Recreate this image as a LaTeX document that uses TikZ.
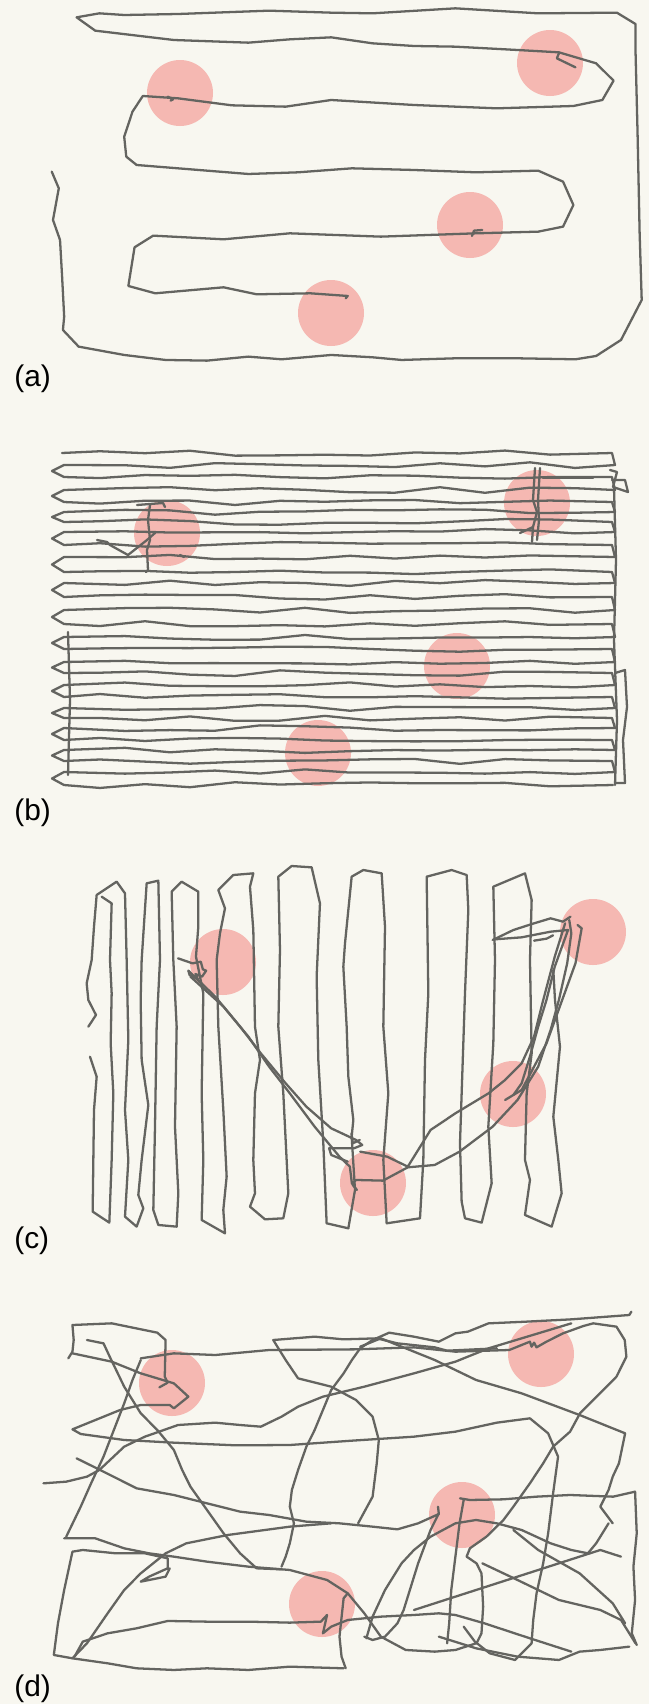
\documentclass[tikz,border=0pt]{standalone}
\usepackage{fontspec}
\setmainfont{Liberation Sans}
\definecolor{paper}{RGB}{248,247,240}
\definecolor{trailgray}{RGB}{100,100,96}
\definecolor{spotpink}{RGB}{245,184,178}
\tikzset{
  trail/.style={draw=trailgray,line width=1.3pt,line join=round,line cap=round},
  spot/.style={fill=spotpink},
  tag/.style={font=\fontsize{17}{20}\selectfont,anchor=base west,inner sep=0pt}
}

\begin{document}
\begin{tikzpicture}[x=0.02cm,y=-0.02cm]
  \fill[paper] (0,0) rectangle (649,1704);
  \useasboundingbox (0,0) rectangle (649,1704);
  \def\Rad{33}
  \pgfmathsetseed{42}
  % --- (a): boustrophedon by hand ---
  \foreach \cx/\cy in {180/93,550/63,470/225,331/313}
    \fill[spot] (\cx,\cy) circle (\Rad);
  \begin{scope}[xscale=0.414,yscale=0.3333]
    \draw[trail] (125,515) -- (142,565) -- (128,660) -- (145,720) -- (150,830)
      -- (155,950) -- (152,990) -- (190,1040) -- (300,1065) -- (400,1080)
      -- (500,1082) -- (600,1070) -- (680,1078) -- (800,1065) -- (900,1072)
      -- (970,1080) -- (1100,1075) -- (1250,1075) -- (1390,1078) -- (1440,1068)
      -- (1500,1020) -- (1550,900) -- (1545,700) -- (1540,400) -- (1535,150)
      -- (1535,72) -- (1490,38) -- (1300,40) -- (1100,25) -- (900,40) -- (800,38)
      -- (650,32) -- (430,42) -- (300,45) -- (240,40) -- (185,52) -- (230,92)
      -- (420,120) -- (600,128) -- (700,118) -- (800,112) -- (900,130)
      -- (1000,138) -- (1100,140) -- (1250,150) -- (1350,157) -- (1440,190)
      -- (1482,242) -- (1455,300) -- (1385,318) -- (1200,325) -- (1000,315)
      -- (800,300) -- (690,320) -- (560,316) -- (430,295) -- (345,288)
      -- (320,335) -- (300,410) -- (305,470) -- (330,495) -- (600,522)
      -- (720,517) -- (850,505) -- (1000,510) -- (1150,517) -- (1300,512)
      -- (1360,545) -- (1385,615) -- (1360,680) -- (1300,695) -- (1150,700)
      -- (920,710) -- (700,700) -- (540,718) -- (370,707) -- (325,742)
      -- (310,858) -- (375,880) -- (540,862) -- (620,883) -- (750,880)
      -- (840,888) -- (835,895);
    % little hooks where the walker paused
    \draw[trail] (1350,160) -- (1345,175) -- (1390,202);
    \draw[trail] (405,290) -- (418,298) -- (412,302);
    \draw[trail] (1140,708) -- (1145,692) -- (1165,690);
  \end{scope}
  \node[tag] (lab-a) at (14,386) {(a)};

  % --- (b): dense lawnmower ---
  \foreach \cx/\cy in {167/533,537/503,457/666,318/753}
    \fill[spot] (\cx,\cy) circle (\Rad);
  \draw[trail] (62,453)
    \foreach \ya/\yb/\yc in {453/465/477,477/490/502,502/512/522,522/532/545,
        545/557/572,572/583/597,597/610/624,624/637/649,649/662/673,673/685/697,
        697/708/718,718/728/740,740/750/761,761/772/785}
    { \foreach \x in {100,145,...,590} { -- (\x,{\ya+3*rand}) }
      -- (612,\ya) -- (615,\yb)
      \foreach \x in {575,530,...,85} { -- (\x,{\yb+3*rand}) }
      -- (64,\yb) -- (52,{(\yb+\yc)/2}) -- (64,\yc) }
    \foreach \x in {100,145,...,590} { -- (\x,{785+3*rand}) } -- (613,785);
  % right and left edges
  \draw[trail] (614,488) -- (616,560) -- (614,640) -- (617,720) -- (615,785);
  \draw[trail] (68,632) -- (70,700) -- (68,775);
  \draw[trail] (615,673) -- (625,670) -- (627,707) -- (623,740) -- (625,783) -- (615,783);
  \draw[trail] (610,470) -- (617,472) -- (613,487) -- (628,492) -- (625,480) -- (612,480);
  % scribbles in the spots
  \draw[trail] (150,505) -- (148,520) -- (150,540) -- (147,550) -- (148,570) -- (146,572);
  \draw[trail] (97,540) -- (107,542) -- (110,545) -- (128,555) -- (147,540) -- (155,533);
  \draw[trail] (137,505) -- (163,503) -- (165,507);
  \draw[trail] (180,555) -- (184,557);
  \draw[trail] (535,468) -- (533,500) -- (537,512) -- (533,527) -- (532,542);
  \draw[trail] (540,468) -- (538,500) -- (539,520) -- (537,540);
  \draw[trail] (520,533) -- (533,527);
  \draw[trail] (543,478) -- (593,478);
  \node[tag] (lab-b) at (14,820) {(b)};

  % --- (c): vertical sweeps, then a detour ---
  \foreach \cx/\cy in {223/962,373/1183,513/1094,593/932}
    \fill[spot] (\cx,\cy) circle (\Rad);
  \begin{scope}[shift={(70,860)},scale=0.3333]
    \draw[trail] (55,500) -- (78,465) -- (55,420) -- (50,370) -- (65,300) -- (72,200)
      -- (80,105) -- (140,65) -- (165,100) -- (170,300) -- (175,540) -- (165,750)
      -- (175,900) -- (165,1070) -- (200,1100) -- (220,1045) -- (205,1005)
      -- (215,900) -- (235,735) -- (215,600) -- (212,420) -- (215,300) -- (230,70)
      -- (265,62) -- (270,300) -- (260,500) -- (255,800) -- (250,1050) -- (265,1095)
      -- (320,1100) -- (325,1000) -- (315,800) -- (320,500) -- (310,300) -- (305,95)
      -- (335,65) -- (385,95) -- (385,200) -- (378,290) -- (400,400) -- (395,700)
      -- (400,900) -- (395,1080) -- (465,1120) -- (460,1050) -- (470,950)
      -- (460,750) -- (445,500) -- (440,300) -- (450,220) -- (465,145) -- (445,90)
      -- (490,45) -- (550,40) -- (540,80) -- (550,210) -- (555,500) -- (570,600)
      -- (555,700) -- (550,900) -- (555,1000) -- (540,1040) -- (585,1078)
      -- (640,1075) -- (655,1000) -- (650,900) -- (640,700) -- (625,500)
      -- (630,270) -- (625,50) -- (665,18) -- (725,22) -- (750,130) -- (740,350)
      -- (745,600) -- (760,850) -- (770,1090) -- (835,1105);
    \draw[trail] (60,590) -- (80,650) -- (72,750) -- (70,900) -- (68,1055)
      -- (118,1088) -- (125,900) -- (130,700) -- (122,550) -- (125,400)
      -- (120,300) -- (125,130) -- (95,110);
  \end{scope}
  \begin{scope}[shift={(340,860)},scale=0.3333]
    \draw[trail] (25,1105) -- (45,990) -- (35,830) -- (40,780) -- (25,650)
      -- (20,500) -- (10,320) -- (15,250) -- (35,50) -- (70,30) -- (125,40)
      -- (135,200) -- (130,500) -- (145,700) -- (130,900) -- (140,1090)
      -- (240,1075) -- (250,900) -- (255,600) -- (265,400) -- (260,50)
      -- (335,30) -- (380,45) -- (385,150) -- (375,400) -- (365,700)
      -- (360,850) -- (365,1025) -- (375,1075) -- (425,1088) -- (455,970)
      -- (445,800) -- (460,550) -- (465,300) -- (460,80) -- (555,40)
      -- (575,120) -- (570,300) -- (575,580) -- (560,700) -- (555,900)
      -- (570,960) -- (555,1065) -- (635,1100) -- (665,1000) -- (655,900)
      -- (640,770) -- (660,560) -- (645,420) -- (640,330);
  \end{scope}
  \begin{scope}[shift={(0,850)},xscale=0.414,yscale=0.3333]
    \draw[trail] (430,325) -- (465,340) -- (485,335) -- (490,358) -- (498,362)
      -- (488,380) -- (472,372) -- (478,388) -- (458,375) -- (455,362);
    \draw[trail] (455,362) -- (520,440) -- (580,530) -- (630,610) -- (690,700)
      -- (740,770) -- (800,835) -- (860,870) -- (875,885) -- (855,895)
      -- (795,895) -- (800,915) -- (840,935);
    \draw[trail] (849,850) -- (852,880) -- (869,870);
    \draw[trail] (460,380) -- (540,470) -- (600,560) -- (650,650) -- (700,730)
      -- (760,830) -- (820,920) -- (845,950) -- (850,1000) -- (862,1020) -- (852,1005);
    \draw[trail] (852,1000) -- (860,990) -- (925,992) -- (985,952) -- (1050,945)
      -- (1110,905) -- (1190,830) -- (1250,750) -- (1300,650) -- (1330,540)
      -- (1350,450) -- (1370,340) -- (1380,250) -- (1375,210);
    \draw[trail] (870,905) -- (935,920) -- (985,950) -- (1040,840) -- (1100,790)
      -- (1180,730) -- (1220,690) -- (1260,640) -- (1290,560) -- (1310,460)
      -- (1340,320) -- (1365,220);
    \draw[trail] (1220,750) -- (1260,720) -- (1290,650) -- (1320,580) -- (1355,460)
      -- (1390,340) -- (1405,235) -- (1395,225);
    \draw[trail] (1190,270) -- (1240,240) -- (1290,220) -- (1330,205) -- (1360,215)
      -- (1378,200);
    \draw[trail] (1195,268) -- (1260,262) -- (1330,245) -- (1372,240) -- (1340,350)
      -- (1320,450) -- (1300,530) -- (1280,620) -- (1260,700) -- (1240,735);
    \draw[trail] (1290,272) -- (1320,266) -- (1336,256);
  \end{scope}
  \node[tag] (lab-c) at (14,1248) {(c)};

  % --- (d): random walk ---
  \foreach \cx/\cy in {172/1383,541/1354,462/1515,322/1604}
    \fill[spot] (\cx,\cy) circle (\Rad);
  \begin{scope}[shift={(0,1290)},xscale=0.414,yscale=0.3333]
    \draw[trail] (165,205) -- (175,185) -- (178,150) -- (175,105) -- (270,100)
      -- (380,128) -- (400,150) -- (398,260) -- (405,278) -- (385,292);
    \draw[trail] (175,190) -- (270,215) -- (340,250) -- (420,280) -- (455,320)
      -- (420,355) -- (410,345) -- (340,345) -- (290,360) -- (175,418) -- (195,432)
      -- (300,450) -- (420,458) -- (570,466) -- (700,465) -- (850,452) -- (1000,440)
      -- (1100,425) -- (1200,398) -- (1280,385) -- (1324,430) -- (1348,500)
      -- (1336,610) -- (1324,730) -- (1312,820) -- (1296,910) -- (1288,990)
      -- (1284,1060) -- (1244,1110) -- (1183,1090) -- (1147,1055) -- (1120,1010);
    \draw[trail] (340,205) -- (420,190) -- (520,195) -- (650,180) -- (860,178)
      -- (1000,172) -- (1100,185) -- (1230,180) -- (1280,155) -- (1284,170)
      -- (1290,158) -- (1296,172) -- (1320,155) -- (1360,130) -- (1409,108)
      -- (1433,100) -- (1489,110) -- (1509,150) -- (1513,200) -- (1489,260)
      -- (1441,320) -- (1401,370) -- (1377,425) -- (1336,470) -- (1312,520)
      -- (1280,580) -- (1240,650) -- (1216,690) -- (1175,740) -- (1135,775)
      -- (1127,800) -- (1151,820) -- (1163,850) -- (1167,950) -- (1163,1030)
      -- (1151,1060);
    \draw[trail] (1525,65) -- (1520,75) -- (1380,88) -- (1270,95) -- (1180,100)
      -- (1130,125) -- (1100,130) -- (1060,155) -- (1000,140) -- (940,128)
      -- (900,150) -- (870,175) -- (850,210) -- (830,250) -- (800,300)
      -- (780,360) -- (760,420) -- (740,470) -- (720,540) -- (705,600)
      -- (700,650) -- (710,700) -- (700,760) -- (690,800) -- (680,830);
    \draw[trail] (660,150) -- (690,210) -- (720,265) -- (800,290) -- (860,330)
      -- (900,380) -- (915,450) -- (910,520) -- (900,620) -- (865,700);
    \draw[trail] (660,150) -- (760,140) -- (830,148) -- (910,145) -- (960,160)
      -- (1050,172) -- (1080,182) -- (1200,175);
    \draw[trail] (870,170) -- (920,145) -- (950,160) -- (1050,210) -- (1150,270)
      -- (1260,310) -- (1400,375) -- (1510,430) -- (1495,520) -- (1480,560)
      -- (1470,600) -- (1450,650) -- (1480,700);
    \draw[trail] (105,580) -- (160,575) -- (210,560) -- (240,540) -- (300,470)
      -- (350,440) -- (430,405) -- (520,398) -- (580,405) -- (630,410) -- (680,380)
      -- (720,350) -- (780,320) -- (880,290) -- (1000,250) -- (1100,215)
      -- (1180,175) -- (1300,130) -- (1380,100);
    \draw[trail] (185,505) -- (250,545) -- (330,595) -- (420,615) -- (500,640)
      -- (580,665) -- (650,675) -- (740,695) -- (820,700) -- (900,710)
      -- (960,718) -- (1010,700) -- (1060,672) -- (1058,650);
    \draw[trail] (155,745) -- (230,745) -- (300,775) -- (360,790) -- (420,800)
      -- (500,815) -- (600,830) -- (700,840) -- (790,870) -- (840,910)
      -- (830,925) -- (820,1040) -- (825,1100) -- (835,1135);
    \draw[trail] (340,210) -- (320,270) -- (300,340) -- (275,420) -- (250,500)
      -- (220,580) -- (195,650) -- (160,740);
    \draw[trail] (210,150) -- (250,160) -- (265,200) -- (300,290) -- (340,370)
      -- (380,420) -- (420,480) -- (440,540) -- (460,590) -- (500,660)
      -- (540,730) -- (580,790) -- (620,835) -- (680,838);
    \draw[trail] (410,835) -- (400,860) -- (340,875) -- (360,860) -- (405,835)
      -- (405,805) -- (350,790) -- (280,790) -- (200,780) -- (175,785)
      -- (155,900) -- (140,1000) -- (130,1095) -- (175,1105) -- (260,1120)
      -- (330,1135) -- (420,1140) -- (500,1135) -- (600,1140) -- (700,1130)
      -- (830,1135);
    \draw[trail] (180,1100) -- (200,1055) -- (260,1030) -- (330,1015) -- (405,993)
      -- (500,995) -- (600,995) -- (700,998) -- (775,995) -- (790,975)
      -- (780,1030) -- (800,1010) -- (840,990) -- (920,980) -- (1000,975)
      -- (1060,970) -- (1100,975) -- (1170,1000) -- (1280,1045) -- (1380,1085);
    \draw[trail] (175,1105) -- (210,1060) -- (260,970) -- (300,900) -- (340,850)
      -- (400,790) -- (450,760) -- (550,735) -- (700,710) -- (800,700);
    \draw[trail] (1120,630) -- (1110,700) -- (1100,800) -- (1090,900) -- (1085,1000)
      -- (1080,1060);
    \draw[trail] (1060,670) -- (1040,720) -- (1010,820) -- (990,900) -- (975,960)
      -- (960,1000) -- (930,1040) -- (900,1050) -- (880,1040);
    \draw[trail] (885,1045) -- (900,980) -- (930,900) -- (970,820) -- (1000,780)
      -- (1040,740) -- (1100,700) -- (1150,690) -- (1200,700) -- (1260,720)
      -- (1330,760) -- (1380,780) -- (1420,790) -- (1440,760) -- (1470,700);
    \draw[trail] (1000,960) -- (1100,920) -- (1200,880) -- (1300,840) -- (1400,800)
      -- (1450,780) -- (1500,800);
    \draw[trail] (840,910) -- (880,970) -- (920,1040) -- (980,1080) -- (1050,1085)
      -- (1100,1080) -- (1150,1060);
    \draw[trail] (1165,820) -- (1250,870) -- (1350,930) -- (1450,960) -- (1500,990)
      -- (1535,1060);
    \draw[trail] (1240,720) -- (1300,780) -- (1400,850) -- (1480,940) -- (1510,1000);
    \draw[trail] (1534,605) -- (1538,730) -- (1530,830) -- (1534,930) -- (1526,1030)
      -- (1538,1065);
    \draw[trail] (1534,605) -- (1481,620) -- (1377,615) -- (1296,620) -- (1216,628)
      -- (1135,630) -- (1111,625);
    \draw[trail] (1060,1040) -- (1150,1075) -- (1250,1100) -- (1350,1110)
      -- (1400,1085) -- (1450,1080) -- (1520,1070);
  \end{scope}
  \node[tag] (lab-d) at (14,1696) {(d)};
\end{tikzpicture}
\end{document}
